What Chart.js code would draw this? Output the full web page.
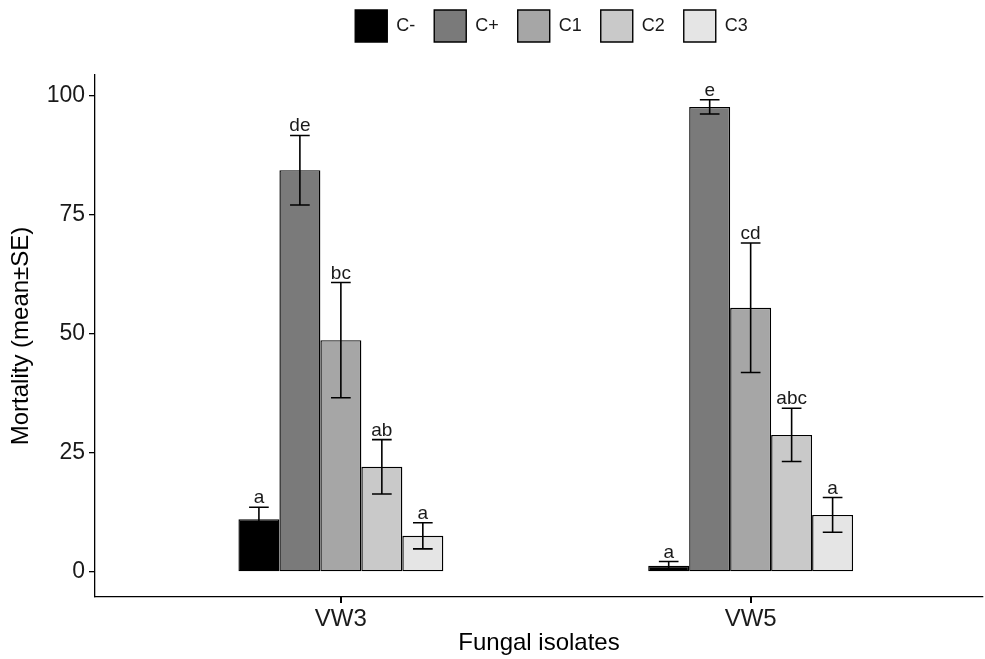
<!DOCTYPE html>
<html><head><meta charset="utf-8">
<script src="https://cdn.jsdelivr.net/npm/chart.js@4/dist/chart.umd.min.js"></script>
<style>html,body{margin:0;padding:0;background:#fff;}#wrap{width:985px;height:659px;position:relative;}</style>
</head><body><div id="wrap"><canvas id="c"></canvas></div>
<script>
// ---- data ----
const isolates = ['VW3', 'VW5'];
const treatments = ['C-', 'C+', 'C1', 'C2', 'C3'];
const meanCneg = [11.1, 1.3];
const meanCpos = [84.4, 97.7];
const meanC1 = [48.7, 55.5];
const meanC2 = [22.1, 28.8];
const meanC3 = [7.6, 12.0];
const seCneg = [2.5, 0.9];
const seCpos = [7.3, 1.5];
const seC1 = [12.1, 13.6];
const seC2 = [5.7, 5.6];
const seC3 = [2.75, 3.65];
const lettersCneg = ['a', 'a'];
const lettersCpos = ['de', 'e'];
const lettersC1 = ['bc', 'cd'];
const lettersC2 = ['ab', 'abc'];
const lettersC3 = ['a', 'a'];
const yTicks = [0, 25, 50, 75, 100];

// ---- styles ----
const fills = ['#000000', '#7a7a7a', '#a6a6a6', '#c9c9c9', '#e5e5e5'];
const FONT = '"Liberation Sans", Arial, Helvetica, sans-serif';
const means = [meanCneg, meanCpos, meanC1, meanC2, meanC3];
const ses = [seCneg, seCpos, seC1, seC2, seC3];
const letters = [lettersCneg, lettersCpos, lettersC1, lettersC2, lettersC3];

const datasets = treatments.map((t, k) => ({
  label: t,
  data: isolates.map((_, i) => ({ x: i + 1, y: means[k][i] })),
  se: ses[k],
  letters: letters[k],
  backgroundColor: fills[k],
  borderColor: '#000',
  borderWidth: 1.4,
  borderSkipped: false,
  categoryPercentage: 0.5,
  barPercentage: 1.0
}));

const errPlugin = {
  id: 'errbars',
  afterDatasetsDraw(chart) {
    const ctx = chart.ctx, ys = chart.scales.y;
    chart.data.datasets.forEach((ds, di) => {
      const meta = chart.getDatasetMeta(di);
      meta.data.forEach((bar, i) => {
        const m = ds.data[i].y, s = ds.se[i];
        const yt = ys.getPixelForValue(m + s), yb = ys.getPixelForValue(m - s);
        const half = bar.width * 0.24;
        ctx.save();
        ctx.strokeStyle = '#000'; ctx.lineWidth = 1.6;
        ctx.beginPath();
        ctx.moveTo(bar.x, yt); ctx.lineTo(bar.x, yb);
        ctx.moveTo(bar.x - half, yt); ctx.lineTo(bar.x + half, yt);
        ctx.moveTo(bar.x - half, yb); ctx.lineTo(bar.x + half, yb);
        ctx.stroke();
        ctx.fillStyle = '#1a1a1a';
        ctx.font = '19px ' + FONT;
        ctx.textAlign = 'center'; ctx.textBaseline = 'alphabetic';
        ctx.fillText(ds.letters[i], bar.x, yt - 4);
        ctx.restore();
      });
    });
  }
};

const xTickMarks = {
  id: 'xTickMarks',
  afterDraw(chart) {
    const ctx = chart.ctx, xs = chart.scales.x;
    const yb = chart.chartArea.bottom;
    ctx.save();
    ctx.fillStyle = '#000';
    isolates.forEach((_, i) => {
      const px = Math.round(xs.getPixelForValue(i + 1));
      ctx.fillRect(px - 1, yb, 2, 6);
    });
    ctx.restore();
  }
};

const legendShift = {
  id: 'legendShift',
  afterLayout(chart) {
    const lg = chart.legend;
    if (!lg) return;
    lg.left += 60; lg.right += 60;
    lg.top -= 23; lg.bottom -= 23;
  }
};

new Chart(document.getElementById('c'), {
  type: 'bar',
  data: { datasets },
  options: {
    responsive: true,
    maintainAspectRatio: false,
    animation: false,
    layout: { padding: { top: 14, right: 2, bottom: 0, left: 0 } },
    plugins: {
      tooltip: { enabled: false },
      legend: {
        position: 'top',
        labels: {
          boxWidth: 32, boxHeight: 32, padding: 19,
          color: '#1a1a1a',
          font: { family: FONT, size: 18 }
        }
      }
    },
    scales: {
      x: {
        type: 'linear',
        offset: false,
        min: 0.4, max: 2.567,
        afterBuildTicks: (s) => { s.ticks = isolates.map((_, i) => ({ value: i + 1 })); },
        afterFit: (s) => { s.height = 62; },
        ticks: {
          callback: (v) => isolates[v - 1],
          color: '#1a1a1a', padding: 2,
          font: { family: FONT, size: 24 },
          maxRotation: 0, autoSkip: false
        },
        grid: { display: true, offset: false, drawOnChartArea: false, drawTicks: true, tickLength: 6, color: '#000', lineWidth: 1.3, tickColor: '#000', tickWidth: 1.3 },
        border: { display: true, color: '#000', width: 1.3 },
        title: { display: true, text: 'Fungal isolates', color: '#000', font: { family: FONT, size: 24 }, padding: { top: 0, bottom: 1 } }
      },
      y: {
        min: -5.25, max: 104.4,
        afterBuildTicks: (s) => { s.ticks = yTicks.map(v => ({ value: v })); },
        afterFit: (s) => { s.width = 95; },
        ticks: { color: '#1a1a1a', padding: 4, font: { family: FONT, size: 23 } },
        grid: { drawOnChartArea: false, drawTicks: true, tickLength: 6, color: '#000', lineWidth: 1.3, tickColor: '#000', tickWidth: 1.3 },
        border: { display: true, color: '#000', width: 1.3 },
        title: { display: true, text: 'Mortality (mean±SE)', color: '#000', font: { family: FONT, size: 24 }, padding: { top: 7, bottom: 0 } }
      }
    }
  },
  plugins: [errPlugin, xTickMarks, legendShift]
});
</script>
</body></html>
